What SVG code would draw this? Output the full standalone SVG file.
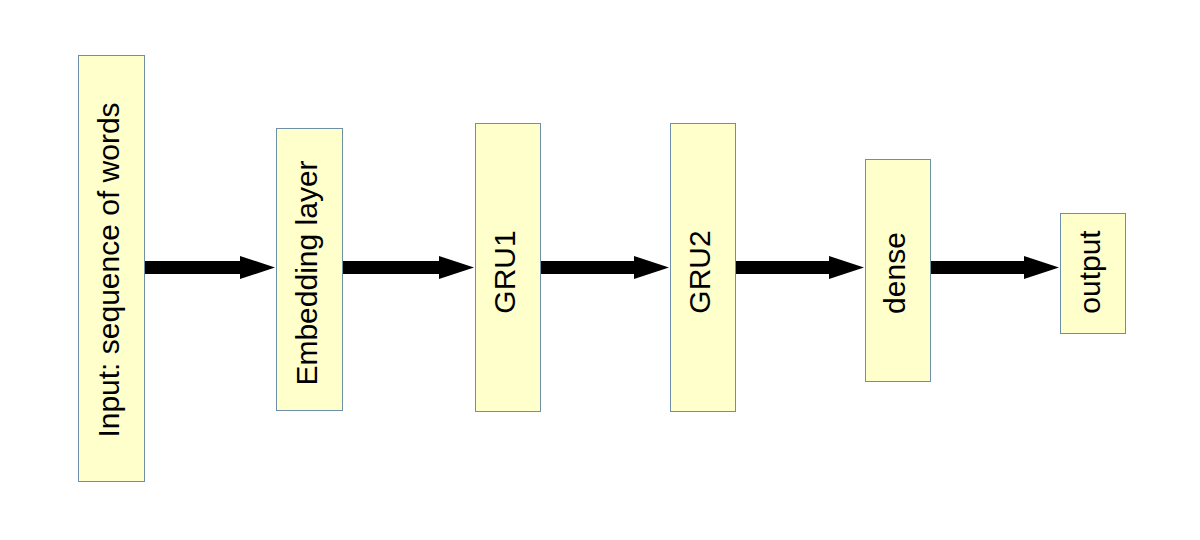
<svg xmlns="http://www.w3.org/2000/svg" width="1200" height="540" viewBox="0 0 1200 540">
  <style>
    .box { fill: #ffffcc; stroke: #6f8ea8; stroke-width: 1; }
    .lbl { font-family: "Liberation Sans", Arial, sans-serif; font-size: 30px; fill: #000; text-anchor: middle; }
    .arrow { fill: #000; }
  </style>
  <rect width="1200" height="540" fill="#ffffff"/>

  <g id="connectors">
    <polygon class="arrow" points="144,261 240,261 240,256 275,267.5 240,279 240,274 144,274"/>
    <polygon class="arrow" points="342,261 439,261 439,256 474,267.5 439,279 439,274 342,274"/>
    <polygon class="arrow" points="541,261 634,261 634,256 669,267.5 634,279 634,274 541,274"/>
    <polygon class="arrow" points="736,261 829,261 829,256 864,267.5 829,279 829,274 736,274"/>
    <polygon class="arrow" points="930,261 1024,261 1024,256 1059,267.5 1024,279 1024,274 930,274"/>
  </g>

  <!-- labels are rotated to read bottom-to-top; translate() sets the baseline point -->
  <g id="input">
    <rect class="box" x="78.5" y="55.5" width="66" height="426"/>
    <text class="lbl" transform="translate(119,270) rotate(-90)">Input: sequence of words</text>
  </g>
  <g id="embedding">
    <rect class="box" x="276.5" y="128.5" width="66" height="282"/>
    <text class="lbl" transform="translate(317,273) rotate(-90)">Embedding layer</text>
  </g>
  <g id="gru1">
    <rect class="box" x="475.5" y="123.5" width="65" height="288"/>
    <text class="lbl" transform="translate(515,272) rotate(-90)">GRU1</text>
  </g>
  <g id="gru2">
    <rect class="box" x="670.5" y="123.5" width="65" height="288"/>
    <text class="lbl" transform="translate(710,272) rotate(-90)">GRU2</text>
  </g>
  <g id="dense">
    <rect class="box" x="865.5" y="159.5" width="65" height="222"/>
    <text class="lbl" transform="translate(905,273) rotate(-90)">dense</text>
  </g>
  <g id="output">
    <rect class="box" x="1060.5" y="213.5" width="65" height="120"/>
    <text class="lbl" transform="translate(1100,272) rotate(-90)">output</text>
  </g>
</svg>
